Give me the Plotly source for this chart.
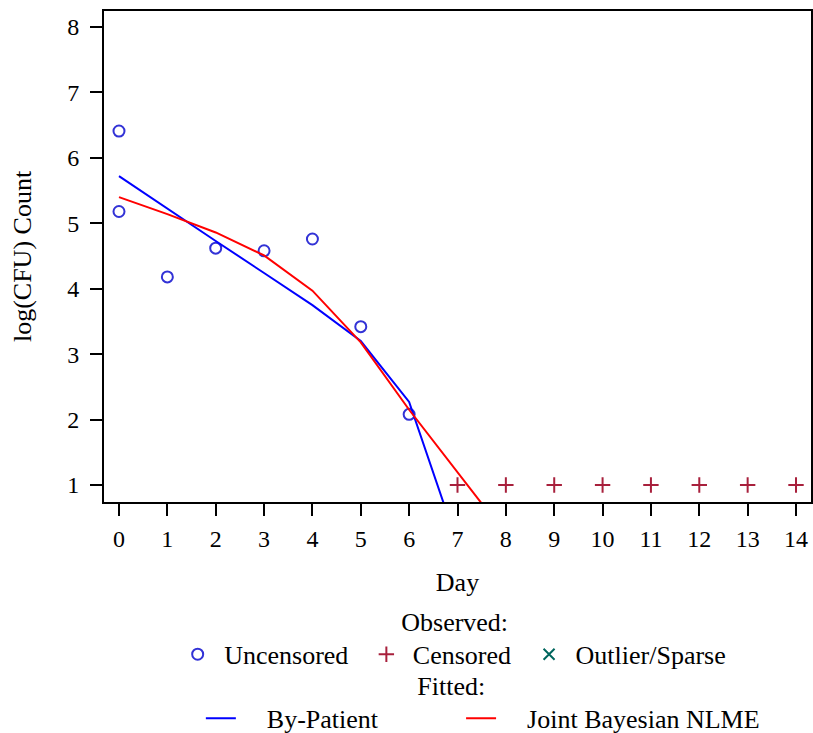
import plotly.graph_objects as go

# ---- data ----
unc_day = [0, 0, 1, 2, 3, 4, 5, 6]
unc_val = [6.41, 5.18, 4.18, 4.62, 4.58, 4.76, 3.42, 2.08]
cens_day = [7, 8, 9, 10, 11, 12, 13, 14]
cens_val = [1, 1, 1, 1, 1, 1, 1, 1]
fit_day = [0, 1, 2, 3, 4, 5, 6, 7, 8]
bypatient = [5.72, 5.22, 4.73, 4.24, 3.75, 3.20, 2.27, 0.10, -2.0]
bayes = [5.40, 5.14, 4.86, 4.51, 3.97, 3.18, 2.15, 1.19, 0.24]
x_ticks = list(range(0, 15))
y_ticks = list(range(1, 9))

FONT = "Liberation Serif"
NB = "\u00a0"

fig = go.Figure()
fig.add_trace(go.Scatter(x=unc_day, y=unc_val, mode="markers",
                         name=NB + "Uncensored" + NB * 2,
                         marker=dict(symbol="circle-open", size=11, color="#3232D6",
                                     line=dict(width=2, color="#3232D6")),
                         legend="legend"))
fig.add_trace(go.Scatter(x=cens_day, y=cens_val, mode="markers",
                         name=NB + "Censored" + NB * 2,
                         marker=dict(symbol="cross-thin-open", size=11, color="#A8203C",
                                     line=dict(width=2, color="#A8203C")),
                         legend="legend"))
fig.add_trace(go.Scatter(x=[None], y=[None], mode="markers",
                         name=NB + "Outlier/Sparse",
                         marker=dict(symbol="x-thin-open", size=11, color="#01665E",
                                     line=dict(width=2, color="#01665E")),
                         legend="legend"))
fig.add_trace(go.Scatter(x=fit_day, y=bypatient, mode="lines",
                         name=NB * 4 + "By-Patient" + NB * 12,
                         line=dict(color="#0000FF", width=2), legend="legend2"))
fig.add_trace(go.Scatter(x=fit_day, y=bayes, mode="lines",
                         name=NB * 4 + "Joint Bayesian NLME",
                         line=dict(color="#FF0000", width=2), legend="legend2"))

fig.update_layout(
    width=813, height=733,
    margin=dict(l=104, r=2, t=11, b=231, autoexpand=False),
    paper_bgcolor="white", plot_bgcolor="white",
    font=dict(family=FONT, size=24, color="black"),
    xaxis=dict(range=[-0.31, 14.31], tickvals=x_ticks, ticks="outside", ticklen=12,
               tickwidth=2, tickcolor="black", showline=True, linewidth=2,
               linecolor="black", mirror=True, showgrid=False, zeroline=False,
               ticklabelstandoff=2, tickfont=dict(size=24),
               title=dict(text="Day", font=dict(size=26), standoff=26)),
    yaxis=dict(range=[0.74, 8.245], tickvals=y_ticks, ticks="outside", ticklen=12,
               tickwidth=2, tickcolor="black", showline=True, linewidth=2,
               linecolor="black", mirror=True, showgrid=False, zeroline=False,
               ticklabelstandoff=6, tickfont=dict(size=24),
               title=dict(text="log(CFU) Count", font=dict(size=26), standoff=28)),
    legend=dict(orientation="h", x=0.4960, xanchor="center", yref="container",
                y=1 - 597 / 733, yanchor="top", maxheight=300,
                bgcolor="rgba(0,0,0,0)",
                title=dict(text="Observed:", side="top center", font=dict(size=26)),
                font=dict(size=26), itemwidth=30, tracegroupgap=0),
    legend2=dict(orientation="h", x=0.137, xanchor="left", yref="paper",
                 y=-0.4888, yanchor="bottom", maxheight=300,
                 bgcolor="rgba(0,0,0,0)",
                 title=dict(text=NB * 33 + "Fitted:", side="top",
                            font=dict(size=26)),
                 font=dict(size=26), itemwidth=30),
)

fig.write_html("out.html")
